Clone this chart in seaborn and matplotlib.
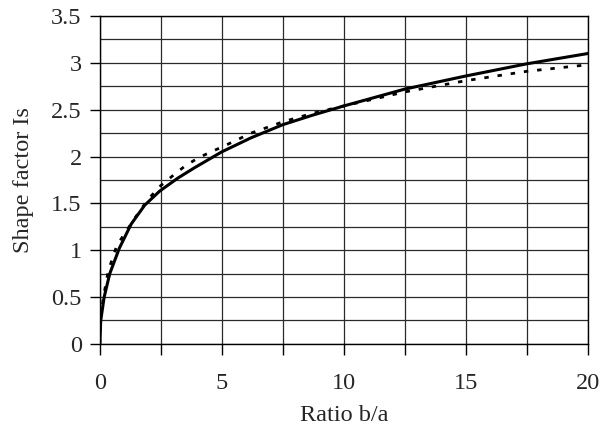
import numpy as np
import pandas as pd
import matplotlib.pyplot as plt
import seaborn as sns

# Data
ratio_solid = [0, 0.04, 0.18, 0.41, 0.8, 1.29, 1.84, 2.45, 3.2, 3.88, 5, 6.2, 7.5, 8.7, 10, 12.5, 15, 17.5, 20]
shape_solid = [0, 0.25, 0.5, 0.75, 1.02, 1.28, 1.48, 1.63, 1.77, 1.88, 2.05, 2.2, 2.34, 2.44, 2.54, 2.72, 2.86, 2.99, 3.1]

ratio_dash = [0, 0.03, 0.15, 0.35, 0.7, 1.43, 1.97, 2.5, 3.06, 3.5, 4.0, 4.55, 5, 6.2, 7.5, 8.7, 10, 12.5, 15, 17.5, 20]
shape_dash = [0, 0.27, 0.5, 0.78, 1.05, 1.34, 1.54, 1.69, 1.81, 1.9, 1.98, 2.05, 2.1, 2.25, 2.37, 2.46, 2.54, 2.69, 2.81, 2.91, 2.98]

df_solid = pd.DataFrame({'ratio': ratio_solid, 'shape': shape_solid})
df_dash = pd.DataFrame({'ratio': ratio_dash, 'shape': shape_dash})

sns.set_style('white')
plt.rcParams['font.family'] = ['Liberation Serif', 'DejaVu Serif']

fig, ax = plt.subplots(figsize=(6.01, 4.46), dpi=100)
fig.subplots_adjust(left=0.166, right=0.978, bottom=0.229, top=0.964)

ax.set_xlim(0, 20)
ax.set_ylim(0, 3.5)
ax.set_xticks(np.arange(0, 20.1, 5))
ax.set_xticks(np.arange(0, 20.1, 2.5), minor=True)
ax.set_yticks(np.arange(0, 3.51, 0.5))
ax.set_yticks(np.arange(0, 3.51, 0.25), minor=True)
ax.set_yticklabels(['0', '0.5', '1', '1.5', '2', '2.5', '3', '3.5'])

ax.grid(True, which='both', color='#2a2a2a', linewidth=0.9)
ax.set_axisbelow(True)

sns.lineplot(data=df_dash, x='ratio', y='shape', ax=ax, color='black',
             linewidth=2.0, linestyle=(0, (1.6, 3.2)), estimator=None, sort=False)
sns.lineplot(data=df_solid, x='ratio', y='shape', ax=ax, color='black',
             linewidth=2.2, estimator=None, sort=False)

for s in ax.spines.values():
    s.set_color('black')
    s.set_linewidth(1.0)

ax.tick_params(axis='y', which='major', direction='out', length=7, width=1,
               color='black', labelsize=17.5, pad=6, left=True)
ax.tick_params(axis='y', which='minor', left=False)
ax.tick_params(axis='x', which='both', direction='out', length=8, width=1,
               color='black', labelsize=17.5, pad=13, bottom=True)

ax.set_xlabel('Ratio b/a', fontsize=17.5, labelpad=8)
ax.set_ylabel('Shape factor Is', fontsize=17.5, labelpad=12)

plt.savefig('out.png', dpi=100)
